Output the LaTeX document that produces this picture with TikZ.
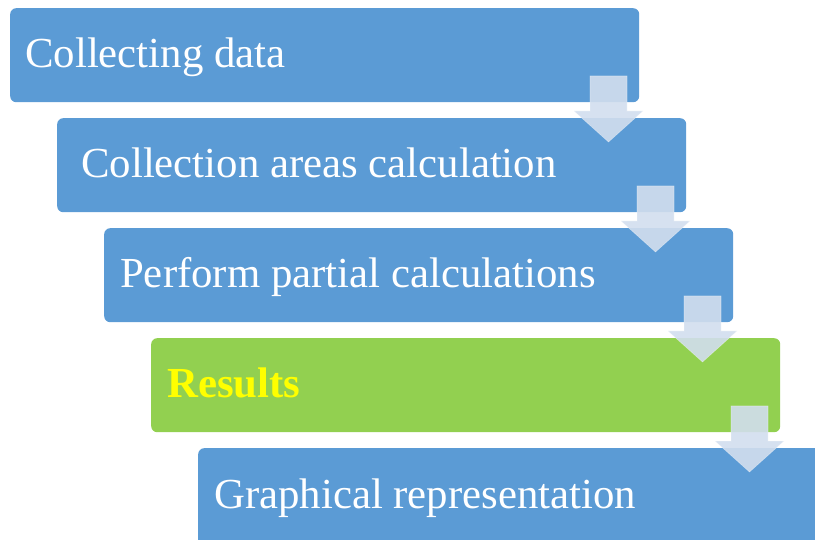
\documentclass[tikz,border=0pt]{standalone}
\usepackage{fontspec}
\setmainfont{Liberation Serif}
\definecolor{stepblue}{RGB}{91,155,213}
\definecolor{stepgreen}{RGB}{146,208,80}
\definecolor{arrowfill}{RGB}{210,222,238}
\begin{document}
\begin{tikzpicture}[x=1pt,y=-1pt,
  stepbox/.style={draw=none,fill=stepblue,rounded corners=6pt,inner sep=0pt,
                  minimum width=629pt,minimum height=94pt,anchor=north west},
  steptext/.style={anchor=base west,inner sep=0pt,text=white,
                   font=\fontsize{42.8}{50}\selectfont},
  downarrow/.style={fill=arrowfill,fill opacity=0.9,draw=white,draw opacity=0.35,line width=0.6pt}]
\useasboundingbox (0,0) rectangle (815,540);
\clip (0,0) rectangle (815,540);

% staircase of process steps
\node[stepbox] (b1) at (10,8) {};
\node[stepbox] (b2) at (57,118) {};
\node[stepbox] (b3) at (104,228) {};
\node[stepbox,fill=stepgreen] (b4) at (151,338) {};
\node[stepbox,minimum width=660pt,minimum height=110pt] (b5) at (198,448) {};

\node[steptext] (t1) at (25,68) {Collecting data};
\node[steptext] (t2) at (81,178) {Collection areas calculation};
\node[steptext] (t3) at (120,288) {Perform partial calculations};
\node[steptext,text={rgb,255:red,255;green,255;blue,0},font=\fontsize{42.8}{50}\selectfont\bfseries] (t4) at (167,398) {Results};
\node[steptext] (t5) at (214,508.5) {Graphical representation};

% block arrows leading from one step down to the next
\foreach \i in {0,1,2,3}{
  \begin{scope}[shift={(47*\i,110*\i)}]
    \draw[downarrow] (590,76) -- (627,76) -- (627,111) -- (643,111) -- (608.5,142)
      -- (574,111) -- (590,111) -- cycle;
  \end{scope}
}
\end{tikzpicture}
\end{document}
